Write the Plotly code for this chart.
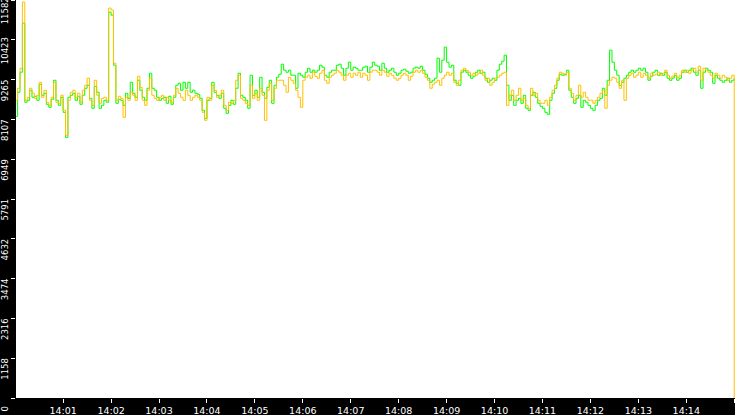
import pandas as pd
import plotly.graph_objects as go

# one sample every 3 seconds, 14:00:00 -> 14:15:00
inicio = "2024-01-01 14:00:00"
n_pontos = 301

serie_laranja = [
    8665, 9015, 9598, 11524, 8665, 8753, 9015, 8869, 8723, 8811,
    9190, 8753, 8957, 8607, 8519, 8753, 9190, 8607, 8577, 8811,
    8373, 7644, 8665, 8898, 8957, 8753, 8869, 8607, 8957, 9103,
    9307, 8665, 8519, 9248, 8811, 8577, 8723, 8753, 8665, 11349,
    11290, 9744, 8665, 8782, 8723, 8169, 8753, 8665, 8898, 8811,
    8665, 9365, 9044, 8665, 8519, 8957, 9307, 8811, 8723, 8665,
    8753, 8811, 8665, 8753, 8665, 8607, 8811, 9015, 8869, 8753,
    8665, 8957, 8811, 8665, 8753, 8811, 8753, 8665, 8315, 8082,
    8753, 8665, 9103, 8957, 8753, 8811, 8957, 8519, 8373, 8607,
    8577, 8665, 9248, 9394, 8723, 8665, 8577, 8519, 9103, 8723,
    8869, 8665, 9015, 8811, 8082, 8957, 9161, 8665, 9015, 9248,
    9248, 9248, 9103, 8898, 9336, 9248, 9161, 8957, 8753, 8461,
    9248, 9336, 9394, 9307, 9482, 9365, 9307, 9453, 9540, 9248,
    9161, 9336, 9394, 9453, 9540, 9482, 9394, 9248, 9394, 9453,
    9336, 9453, 9394, 9482, 9336, 9453, 9394, 9248, 9482, 9540,
    9540, 9482, 9394, 9540, 9482, 9365, 9453, 9394, 9307, 9248,
    9307, 9394, 9453, 9394, 9248, 9365, 9482, 9540, 9482, 9540,
    9453, 9336, 9248, 9015, 9132, 9190, 9248, 9103, 9307, 9394,
    9482, 9394, 9453, 9190, 9103, 9248, 9540, 9598, 9540, 9482,
    9394, 9453, 9394, 9453, 9540, 9394, 9248, 9307, 9103, 9190,
    9307, 9336, 9394, 9453, 9482, 8519, 8811, 8957, 8665, 8811,
    9015, 8665, 8723, 8519, 8432, 9015, 8811, 8869, 8665, 8577,
    8577, 8665, 8519, 8753, 8957, 9103, 9307, 9482, 9453, 9394,
    9482, 9015, 8869, 8665, 8811, 9103, 8753, 8898, 8753, 8665,
    8665, 8577, 8665, 8753, 8869, 8957, 8432, 9103, 9248, 9336,
    9307, 9190, 9015, 9248, 8665, 9307, 9394, 9453, 9336, 9394,
    9482, 9336, 9453, 9394, 9307, 9453, 9394, 9423, 9482, 9394,
    9453, 9540, 9394, 9307, 9365, 9453, 9336, 9394, 9540, 9482,
    9540, 9453, 9540, 9598, 9482, 9657, 9248, 9598, 9540, 9482,
    9394, 9307, 9453, 9394, 9307, 9394, 9336, 9248, 9307, 9394,
    0,
]

serie_verde = [
    8198, 8898, 9482, 10911, 8607, 8665, 8957, 8753, 8782, 8665,
    9132, 8811, 8869, 8548, 8461, 8694, 9248, 8665, 8519, 8753,
    8315, 7586, 8753, 8811, 8869, 8665, 8782, 8548, 8811, 9015,
    9103, 8723, 8432, 9073, 8898, 8432, 8519, 8665, 8607, 11232,
    11144, 9686, 8577, 8694, 8665, 8519, 8869, 8723, 9190, 8869,
    8753, 9248, 8957, 8753, 8665, 9015, 9453, 9015, 8957, 8753,
    8665, 8723, 8753, 8577, 8782, 8548, 8753, 9103, 9161, 8957,
    9190, 9015, 9190, 8898, 8957, 8869, 8840, 8723, 8373, 8140,
    8665, 8723, 9190, 8898, 8811, 8723, 8869, 8432, 8286, 8519,
    8665, 8548, 9015, 9453, 8811, 8753, 8665, 8432, 9394, 8811,
    8957, 8753, 9336, 8898, 8723, 9044, 9248, 8577, 9103, 9336,
    9423, 9715, 9540, 9482, 9540, 9394, 9394, 9015, 9453, 9394,
    9336, 9482, 9598, 9482, 9540, 9482, 9540, 9686, 9628, 9394,
    9336, 9482, 9540, 9540, 9686, 9715, 9598, 9394, 9598, 9774,
    9540, 9628, 9598, 9540, 9540, 9628, 9657, 9482, 9628, 9774,
    9686, 9657, 9540, 9744, 9598, 9482, 9540, 9598, 9482, 9394,
    9453, 9540, 9569, 9511, 9453, 9482, 9598, 9628, 9598, 9657,
    9540, 9423, 9307, 9190, 9248, 9307, 9890, 9482, 9832, 10211,
    9774, 9628, 9686, 9248, 9161, 9103, 9482, 9540, 9482, 9394,
    9307, 9365, 9482, 9540, 9453, 9482, 9307, 9190, 9248, 9307,
    9248, 9540, 9715, 9803, 9978, 9103, 8665, 8811, 8519, 8665,
    8723, 8577, 8811, 8432, 8373, 8811, 8898, 8753, 8577, 8490,
    8432, 8315, 8257, 8665, 8869, 9015, 9248, 9423, 9394, 9423,
    9540, 8957, 8753, 8577, 8723, 8811, 8461, 8665, 8607, 8519,
    8432, 8373, 8519, 8665, 8723, 9015, 8811, 9248, 10124, 9774,
    9540, 9394, 9103, 9190, 9307, 9394, 9482, 9540, 9482, 9540,
    9598, 9540, 9598, 9482, 9248, 9365, 9482, 9540, 9394, 9453,
    9394, 9482, 9307, 9248, 9307, 9394, 9248, 9307, 9482, 9540,
    9482, 9540, 9598, 9482, 9394, 9540, 9015, 9482, 9598, 9540,
    9482, 9161, 9394, 9307, 9248, 9190, 9248, 9307, 9190, 9248,
    9307,
]

# escala do eixo y (valores truncados como no original)
ticks_y = [0, 1158, 2316, 3474, 4632, 5791, 6949, 8107, 9265, 10423, 11582]

tempo = pd.date_range(inicio, periods=n_pontos, freq="3s")

fig = go.Figure()
fig.add_trace(go.Scatter(x=tempo, y=serie_verde, mode="lines", line_shape="hv",
                         line=dict(color="#00ff00", width=1)))
fig.add_trace(go.Scatter(x=tempo, y=serie_laranja, mode="lines", line_shape="hv",
                         line=dict(color="#ffc000", width=1)))

fig.update_xaxes(
    range=["2024-01-01 14:00:01", "2024-01-01 14:15:01"],
    dtick=60000, tick0="2024-01-01 14:00:00", tickformat="%H:%M",
    ticks="outside", ticklen=4, tickcolor="white",
    showgrid=False, zeroline=False, showline=False, automargin=False,
    tickfont=dict(family="DejaVu Sans", size=9.5, color="white"),
)
fig.update_yaxes(
    range=[0, 11584],
    tickvals=ticks_y, ticktext=[str(v) for v in ticks_y],
    tickangle=-90, ticklabelshift=12, ticklabeloverflow="allow",
    ticks="outside", ticklen=4, tickcolor="white",
    showgrid=False, zeroline=False, showline=False, automargin=False,
    tickfont=dict(family="DejaVu Sans", size=8.5, color="white"),
)

fig.update_layout(
    width=735, height=415,
    paper_bgcolor="black",
    plot_bgcolor="white",
    showlegend=False,
    margin=dict(l=16, r=0, t=0, b=17),
)

# tira a margem padrao do body para o grafico ocupar a janela toda
fig.write_html("out.html", config={"displayModeBar": False},
               post_script="document.body.style.margin='0';")
